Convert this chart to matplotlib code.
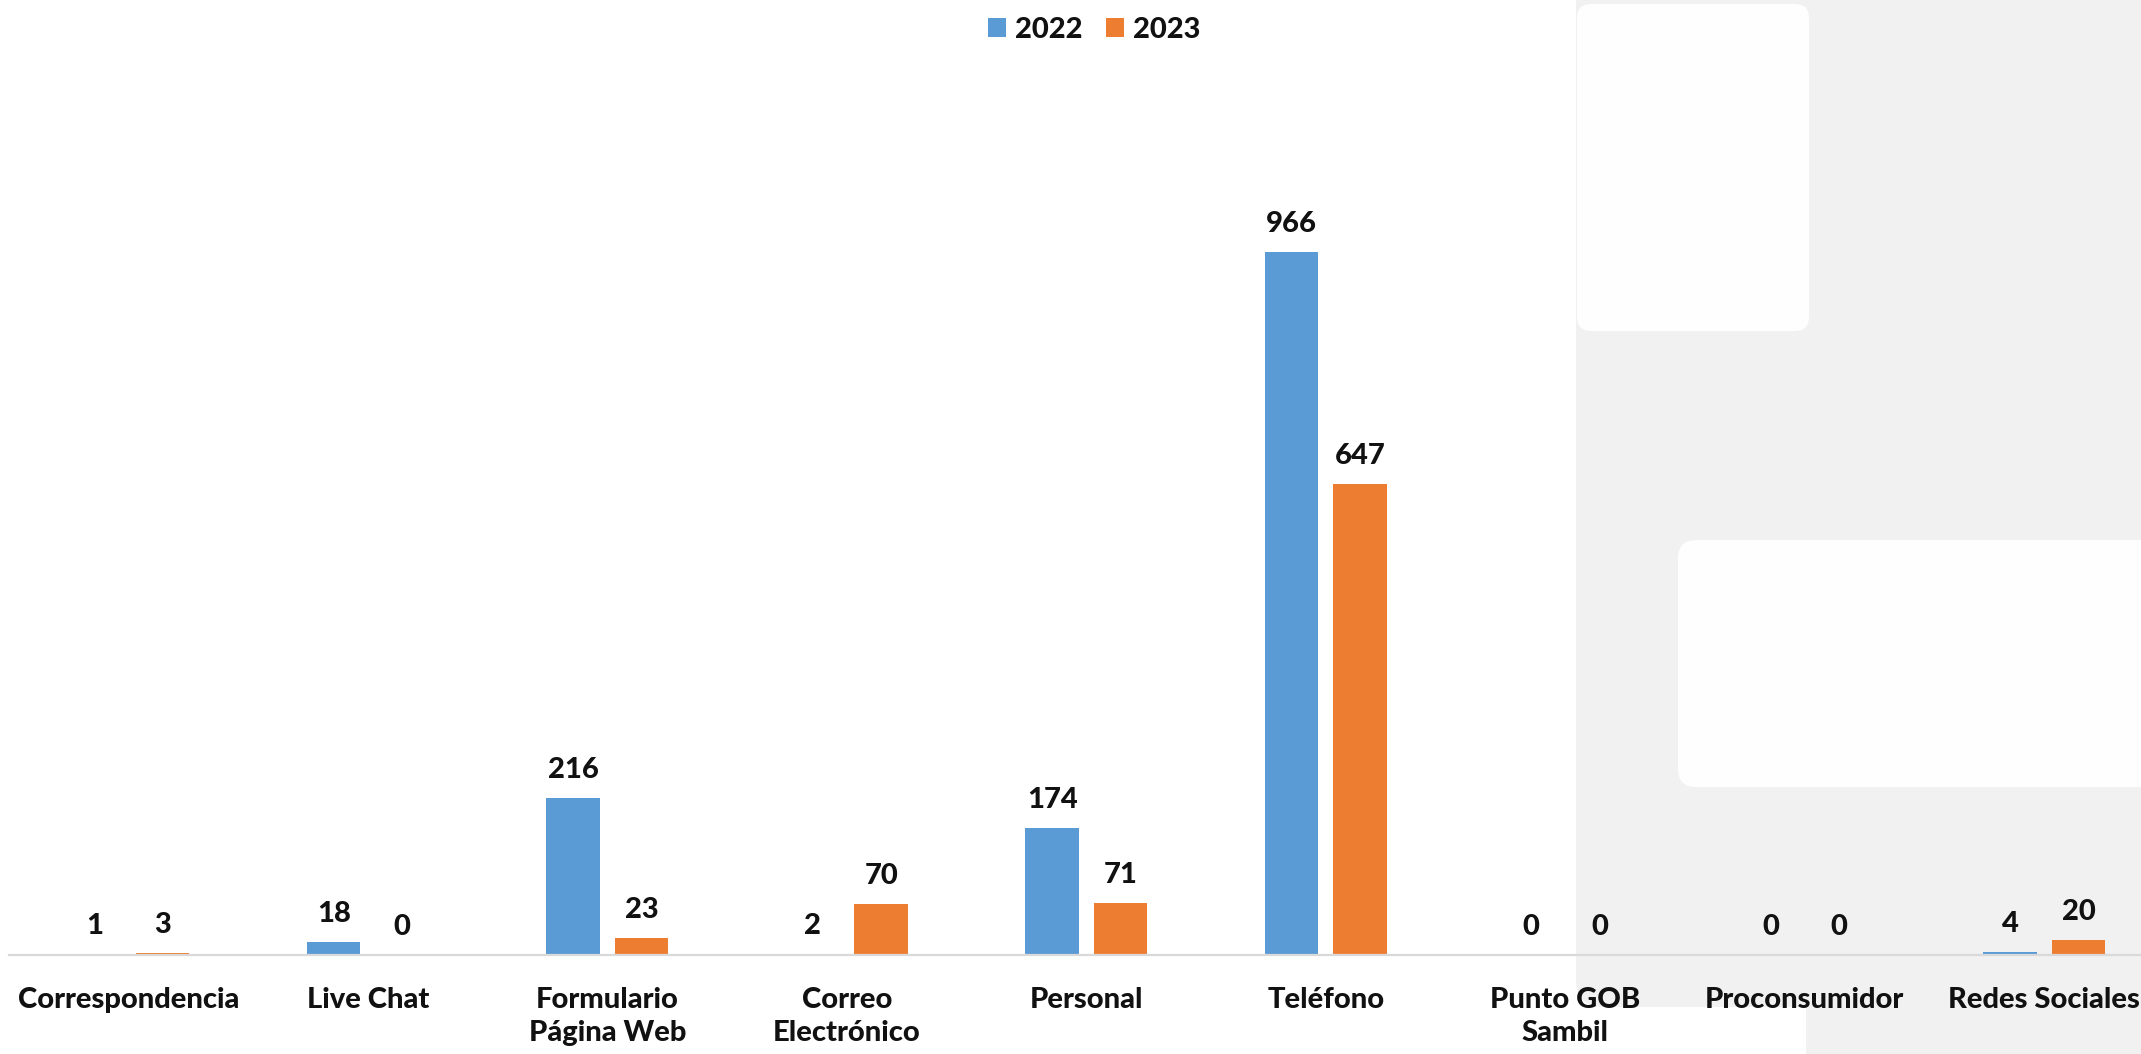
import numpy as np
import matplotlib
matplotlib.use("Agg")
import matplotlib.pyplot as plt
from matplotlib.patches import FancyBboxPatch, Rectangle, Patch
from matplotlib.transforms import IdentityTransform

# Datos del gráfico
categorias = ["Correspondencia", "Live Chat", "Formulario\nPágina Web", "Correo\nElectrónico",
              "Personal", "Teléfono", "Punto GOB\nSambil", "Proconsumidor", "Redes Sociales"]
valores_2022 = [1, 18, 216, 2, 174, 966, 0, 0, 4]
valores_2023 = [3, 0, 23, 70, 71, 647, 0, 0, 20]
series = ["2022", "2023"]

AZUL = "#5B9BD5"
NARANJA = "#ED7D31"
GRIS_FONDO = "#F0F1F0"
TEXTO = "#111111"
PESO = "black"
TAM = 21

plt.rcParams["font.family"] = ["Lato", "DejaVu Sans"]

W, H = 2141, 1054
fig = plt.figure(figsize=(W / 100, H / 100), dpi=100)
fig.patch.set_facecolor("white")


def px(x, y_top, w, h):
    # convierte coordenadas desde arriba a pixeles desde abajo
    return x, H - y_top - h, w, h


def caja(x, y_top, w, h, color, r=14):
    x0, y0, ww, hh = px(x, y_top, w, h)
    p = FancyBboxPatch((x0, y0), ww, hh, boxstyle=f"round,pad=0,rounding_size={r}",
                       facecolor=color, edgecolor="none", transform=IdentityTransform(),
                       zorder=-10)
    fig.add_artist(p)


# Fondo decorativo gris a la derecha
caja(1576, -40, 700, 1007 + 40, GRIS_FONDO, r=28)
r = Rectangle((1806, 0), 400, H, facecolor=GRIS_FONDO, edgecolor="none",
              transform=IdentityTransform(), zorder=-10)
fig.add_artist(r)
caja(1577, 4, 232, 327, "#FEFEFE")
caja(1678, 540, 600, 247, "#FEFEFE", r=18)

# Ejes
izq, der = 8.75, 2164
base, arriba = 955, 60
ax = fig.add_axes([izq / W, (H - base) / H, (der - izq) / W, (base - arriba) / H])
ax.set_facecolor("none")

x = np.arange(len(categorias))
ancho = 0.223
desp = 0.143
b1 = ax.bar(x - desp, valores_2022, ancho, color=AZUL, zorder=2)
b2 = ax.bar(x + desp, valores_2023, ancho, color=NARANJA, zorder=2)

ax.set_xlim(-0.5, len(categorias) - 0.5)
ax.set_ylim(0, (base - arriba) / 0.7277)

for barras, vals in [(b1, valores_2022), (b2, valores_2023)]:
    for rect, v in zip(barras, vals):
        ax.annotate(str(v), (rect.get_x() + rect.get_width() / 2, v),
                    xytext=(0, 20), textcoords="offset pixels",
                    ha="center", va="baseline", fontsize=TAM, fontweight=PESO, color=TEXTO)

ax.set_xticks(x)
ax.set_xticklabels(categorias, fontsize=TAM, fontweight=PESO, color=TEXTO, linespacing=1.35)
ax.tick_params(axis="x", length=0, pad=23)
ax.set_yticks([])
for s in ["left", "right", "top"]:
    ax.spines[s].set_visible(False)
ax.spines["bottom"].set_color("#D9D9D9")
ax.spines["bottom"].set_linewidth(1.6)

handles = [Patch(facecolor=AZUL), Patch(facecolor=NARANJA)]
fig.legend(handles, series, loc="upper center", bbox_to_anchor=(1094 / W, 1 - 2 / H),
           ncol=2, frameon=False, prop={"size": TAM, "weight": PESO},
           handlelength=0.62, handleheight=0.62, handletextpad=0.3, columnspacing=0.8,
           borderpad=0, labelcolor=TEXTO)

fig.savefig("out.png", dpi=100)
